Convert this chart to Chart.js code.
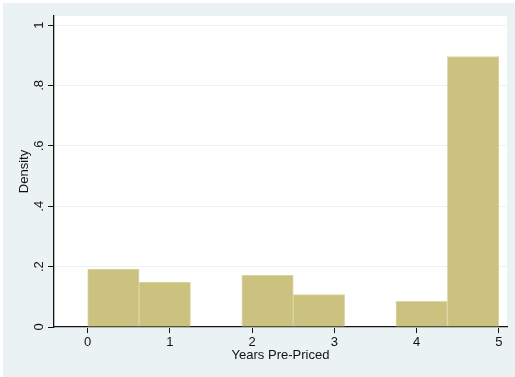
<!DOCTYPE html>
<html>
<head>
<meta charset="utf-8">
<title>Years Pre-Priced</title>
<script src="https://cdn.jsdelivr.net/npm/chart.js@4.4.1/dist/chart.umd.min.js"></script>
<style>
  html, body { margin: 0; padding: 0; background: #ffffff; }
  canvas { display: block; }
</style>
</head>
<body>
<canvas id="hist" width="515" height="377"></canvas>
<script>
// Histogram bins: left edges, common width, and density of each bin
const binLeft = [0, 0.625, 1.25, 1.875, 2.5, 3.125, 3.75, 4.375];
const binWidth = 0.625;
const density = [0.192, 0.149, 0, 0.171, 0.107, 0, 0.085, 0.896];

// Axis ticks and their labels
const xTicks = [0, 1, 2, 3, 4, 5];
const yTicks = [0, 0.2, 0.4, 0.6, 0.8, 1];
const yTickLabels = ['0', '.2', '.4', '.6', '.8', '1'];

const FONT = '"Liberation Sans", Arial, Helvetica, sans-serif';
const OUTER_BG = '#EAF2F3';
const BAR_FILL = '#CAC27E';
const BAR_EDGE = '#DBD5A4';
const INK = '#111111';

const points = binLeft.map((l, i) => ({ x: l + binWidth / 2, y: density[i] }));

// Stata-like backgrounds: tinted graph region, white plot region
const backgrounds = {
  id: 'backgrounds',
  beforeDraw(chart) {
    const { ctx, chartArea: a } = chart;
    ctx.save();
    ctx.fillStyle = '#ffffff';
    ctx.fillRect(0, 0, chart.width, chart.height);
    ctx.fillStyle = OUTER_BG;
    ctx.fillRect(3, 3, chart.width - 3, chart.height - 3);
    ctx.fillStyle = '#ffffff';
    ctx.fillRect(a.left, a.top, a.right - a.left, a.bottom - a.top);
    ctx.restore();
  }
};

// Vertical (rotated) y tick labels centred on each tick
const rotatedYLabels = {
  id: 'rotatedYLabels',
  afterDraw(chart) {
    const { ctx } = chart;
    const ys = chart.scales.y;
    ctx.save();
    ctx.fillStyle = INK;
    ctx.font = '13px ' + FONT;
    ctx.textAlign = 'center';
    ctx.textBaseline = 'middle';
    yTicks.forEach((v, i) => {
      const py = ys.getPixelForValue(v);
      ctx.save();
      ctx.translate(39, py);
      ctx.rotate(-Math.PI / 2);
      ctx.fillText(yTickLabels[i], 0, 0);
      ctx.restore();
    });
    ctx.restore();
  }
};

new Chart(document.getElementById('hist'), {
  type: 'bar',
  data: {
    datasets: [{
      data: points,
      backgroundColor: BAR_FILL,
      borderColor: BAR_EDGE,
      borderWidth: 1,
      borderSkipped: 'bottom',
      barPercentage: 1,
      categoryPercentage: 1
    }]
  },
  options: {
    responsive: false,
    devicePixelRatio: 1,
    animation: false,
    layout: { padding: { top: 16, right: 8, left: 0, bottom: 0 } },
    plugins: {
      legend: { display: false },
      tooltip: { enabled: false }
    },
    scales: {
      x: {
        type: 'linear',
        offset: false,
        min: -0.41,
        max: 5.1,
        afterBuildTicks(scale) { scale.ticks = xTicks.map(v => ({ value: v })); },
        afterFit(scale) { scale.height = 50; },
        grid: {
          offset: false,
          drawOnChartArea: false,
          drawTicks: true,
          tickLength: 6,
          tickColor: INK,
          color: INK
        },
        border: { display: true, color: INK, width: 1.3 },
        ticks: {
          color: INK,
          padding: 2,
          maxRotation: 0,
          font: { family: FONT, size: 13 },
          callback: v => String(v)
        },
        title: {
          display: true,
          text: 'Years Pre-Priced',
          color: INK,
          font: { family: FONT, size: 13 },
          padding: { top: 0, bottom: 14 }
        }
      },
      y: {
        type: 'linear',
        min: 0,
        max: 1.03,
        afterBuildTicks(scale) { scale.ticks = yTicks.map(v => ({ value: v })); },
        afterFit(scale) { scale.width = 54; },
        grid: {
          drawOnChartArea: true,
          drawTicks: true,
          tickLength: 6,
          tickColor: INK,
          color: OUTER_BG,
          lineWidth: 1
        },
        border: { display: true, color: INK, width: 1.3 },
        ticks: { display: false },
        title: {
          display: true,
          text: 'Density',
          color: INK,
          font: { family: FONT, size: 13 },
          padding: { top: 17, bottom: 0 }
        }
      }
    }
  },
  plugins: [backgrounds, rotatedYLabels]
});
</script>
</body>
</html>
